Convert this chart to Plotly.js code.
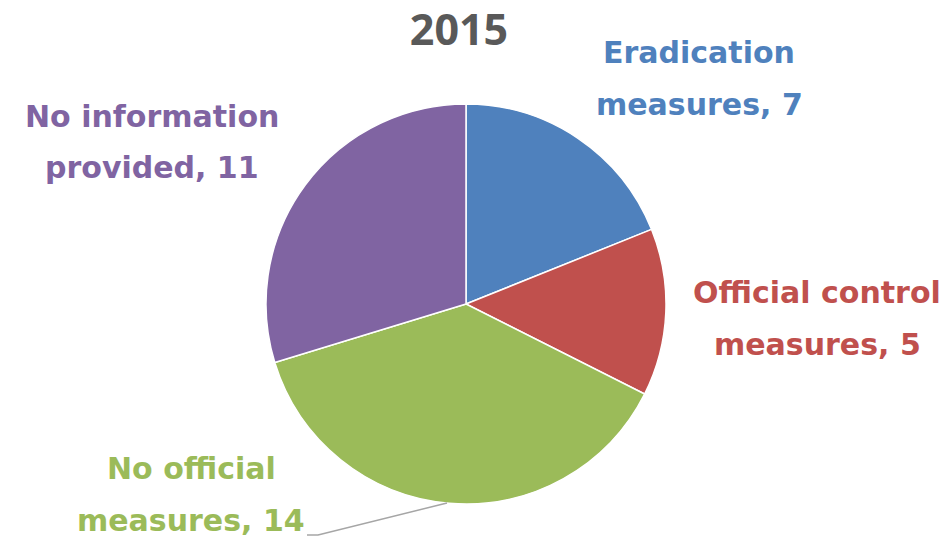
<!DOCTYPE html>
<html><head><meta charset="utf-8">
<script src="https://cdn.plot.ly/plotly-3.0.1.min.js"></script>
<style>html,body{margin:0;padding:0;background:#fff}#chart{width:950px;height:541px}</style>
</head><body><div id="chart"></div>
<script>
const categories = ["Eradication measures", "Official control measures", "No official measures", "No information provided"];
const values = [7, 5, 14, 11];
const labelLine1 = ["Eradication", "Official control", "No official", "No information"];
const labelLine2 = ["measures", "measures", "measures", "provided"];
const colors = ["#4F81BD", "#C0504D", "#9BBB59", "#8064A2"];
const titleText = "2015";

const W = 950, H = 541;
const px = x => x / W, py = y => 1 - y / H;

// label centres (pixel) for each category
const labelPos = [[699, 78], [817, 318], [191, 494], [152, 142]];
const lineGap = 52;
const labelFont = {family: "'DejaVu Sans', sans-serif", size: 30, weight: 700};

const annotations = [];
categories.forEach((c, i) => {
  const [cx, cy] = labelPos[i];
  annotations.push({xref: "paper", yref: "paper", x: px(cx), y: py(cy - lineGap / 2),
    text: labelLine1[i], showarrow: false, xanchor: "center", yanchor: "middle",
    font: Object.assign({color: colors[i]}, labelFont)});
  annotations.push({xref: "paper", yref: "paper", x: px(cx), y: py(cy + lineGap / 2),
    text: labelLine2[i] + ", " + values[i], showarrow: false, xanchor: "center", yanchor: "middle",
    font: Object.assign({color: colors[i]}, labelFont)});
});

const data = [{
  type: "pie",
  labels: categories,
  values: values,
  sort: false,
  direction: "clockwise",
  rotation: 0,
  textinfo: "none",
  hoverinfo: "label+value",
  marker: {colors: colors, line: {color: "#ffffff", width: 1.5}},
  domain: {x: [px(266), px(666)], y: [py(504), py(104)]},
  showlegend: false
}];

const layout = {
  width: W, height: H,
  margin: {l: 0, r: 0, t: 0, b: 0},
  paper_bgcolor: "#ffffff",
  title: {text: "<b>" + titleText + "</b>", x: px(459), xanchor: "center", y: py(30), yanchor: "middle",
    font: {family: "'Open Sans', sans-serif", size: 43, color: "#595959"}},
  annotations: annotations,
  shapes: [{type: "path", xref: "paper", yref: "paper",
    path: `M ${px(307)} ${py(535)} L ${px(318)} ${py(535)} L ${px(447)} ${py(503)}`,
    line: {color: "#A6A6A6", width: 1.5}}]
};

Plotly.newPlot("chart", data, layout, {displayModeBar: false, staticPlot: true});
</script></body></html>
